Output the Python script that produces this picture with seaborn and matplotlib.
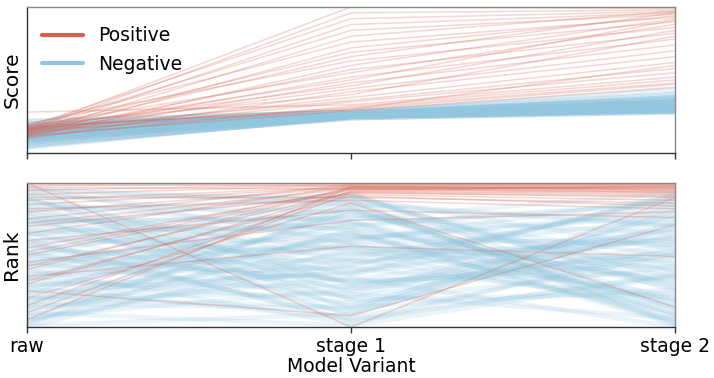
import numpy as np
import pandas as pd
import matplotlib
matplotlib.use("Agg")
import matplotlib.pyplot as plt
import seaborn as sns
from matplotlib.lines import Line2D

stages = ["raw", "stage 1", "stage 2"]

# ---- Positive items: score at each stage ----
pos_score_raw = [0.16, 0.15, 0.18, 0.14, 0.17, 0.13, 0.19, 0.12, 0.16, 0.15,
                 0.20, 0.11, 0.14, 0.18, 0.13, 0.16, 0.12, 0.17, 0.15, 0.10,
                 0.19, 0.14, 0.16, 0.13, 0.28, 0.11, 0.17, 0.15, 0.12, 0.18]
pos_score_s1 = [1.00, 0.96, 0.92, 0.88, 0.84, 0.80, 0.76, 0.72, 0.69, 0.66,
                0.63, 0.60, 0.57, 0.55, 0.52, 0.50, 0.48, 0.46, 0.44, 0.42,
                0.40, 0.38, 0.36, 0.35, 0.33, 0.32, 0.31, 0.30, 0.29, 0.30]
pos_score_s2 = [0.99, 0.98, 0.97, 0.96, 0.95, 0.97, 0.93, 0.94, 0.90, 0.96,
                0.86, 0.92, 0.82, 0.88, 0.78, 0.91, 0.74, 0.84, 0.70, 0.66,
                0.80, 0.62, 0.58, 0.55, 0.52, 0.50, 0.48, 0.47, 0.45, 0.60]

# ---- Positive items: rank percentile (0 = best) ----
pos_rank_raw = [2, 5, 8, 1, 12, 0, 15, 20, 25, 28,
                35, 40, 45, 50, 55, 60, 65, 70, 75, 80,
                85, 90, 95, 30, 10, 48, 58, 68, 3, 18]
pos_rank_s1 = [0.5, 1, 1.5, 2, 2.5, 100, 3, 3.5, 1.2, 4,
               2.2, 19, 4.5, 5, 26, 3, 44, 6, 92, 14,
               5.5, 7, 2.8, 8, 10, 3.8, 6.5, 9, 4.2, 12]
pos_rank_s2 = [0.5, 1, 2, 1.5, 3, 10, 2.5, 4, 0.8, 3.5,
               5, 24, 6, 2, 20, 4.5, 51, 8, 29, 86,
               7, 9, 3.2, 12, 14, 5.5, 10, 16, 6.5, 18]

# ---- Negative items: score at each stage ----
neg_score_raw = [0.12, 0.08, 0.15, 0.10, 0.18, 0.06, 0.13, 0.21, 0.09, 0.14,
                 0.11, 0.17, 0.05, 0.13, 0.19, 0.07, 0.12, 0.16, 0.10, 0.22,
                 0.14, 0.04, 0.11, 0.18, 0.08, 0.15, 0.12, 0.09, 0.20, 0.13,
                 0.06, 0.16, 0.10, 0.14, 0.19, 0.07, 0.12, 0.17, 0.11, 0.03,
                 0.15, 0.09, 0.13, 0.21, 0.08, 0.16, 0.11, 0.14, 0.05, 0.18,
                 0.12, 0.10, 0.17, 0.07, 0.14, 0.20, 0.09, 0.13, 0.16, 0.11,
                 0.08, 0.15, 0.12, 0.18, 0.06, 0.14, 0.10, 0.23, 0.13, 0.09,
                 0.16, 0.11, 0.04, 0.15, 0.12, 0.19, 0.08, 0.13, 0.17, 0.10]
neg_score_s1 = [0.26, 0.25, 0.27, 0.24, 0.28, 0.25, 0.26, 0.27, 0.24, 0.26,
                0.25, 0.27, 0.23, 0.26, 0.28, 0.24, 0.25, 0.26, 0.27, 0.29,
                0.26, 0.24, 0.25, 0.27, 0.25, 0.26, 0.28, 0.24, 0.27, 0.26,
                0.23, 0.26, 0.25, 0.27, 0.28, 0.24, 0.26, 0.25, 0.27, 0.24,
                0.26, 0.25, 0.27, 0.29, 0.24, 0.26, 0.25, 0.27, 0.23, 0.28,
                0.25, 0.26, 0.27, 0.24, 0.26, 0.28, 0.25, 0.26, 0.27, 0.25,
                0.24, 0.27, 0.26, 0.28, 0.25, 0.26, 0.24, 0.29, 0.26, 0.25,
                0.27, 0.25, 0.24, 0.26, 0.25, 0.28, 0.24, 0.26, 0.27, 0.25]
neg_score_s2 = [0.33, 0.30, 0.36, 0.29, 0.38, 0.31, 0.34, 0.37, 0.28, 0.32,
                0.30, 0.35, 0.27, 0.33, 0.40, 0.29, 0.31, 0.34, 0.36, 0.42,
                0.32, 0.28, 0.30, 0.37, 0.31, 0.34, 0.39, 0.29, 0.35, 0.33,
                0.27, 0.33, 0.30, 0.36, 0.38, 0.29, 0.32, 0.31, 0.35, 0.28,
                0.34, 0.30, 0.37, 0.41, 0.29, 0.33, 0.31, 0.36, 0.28, 0.39,
                0.31, 0.32, 0.35, 0.29, 0.33, 0.38, 0.30, 0.34, 0.36, 0.31,
                0.29, 0.36, 0.32, 0.39, 0.30, 0.34, 0.28, 0.44, 0.33, 0.30,
                0.35, 0.31, 0.28, 0.33, 0.30, 0.37, 0.29, 0.32, 0.36, 0.31]

# ---- Negative items: rank percentile (0 = best) ----
neg_rank_raw = [3, 4, 6, 7, 9, 10, 12, 13, 15, 16,
                18, 19, 21, 22, 24, 25, 27, 28, 30, 31,
                33, 34, 36, 37, 39, 40, 42, 43, 45, 46,
                48, 49, 51, 52, 54, 55, 57, 58, 60, 61,
                63, 64, 66, 67, 69, 70, 72, 73, 75, 76,
                78, 79, 81, 82, 84, 85, 87, 88, 90, 91,
                93, 94, 96, 97, 99, 100, 5, 20, 35, 50,
                65, 80, 95, 98, 11, 26, 41, 56, 71, 86]
neg_rank_s1 = [42, 15, 70, 28, 88, 9, 55, 33, 76, 20,
               64, 11, 47, 92, 37, 81, 24, 58, 7, 69,
               31, 85, 13, 50, 96, 40, 18, 73, 61, 26,
               90, 45, 8, 67, 35, 79, 22, 53, 98, 14,
               59, 30, 83, 44, 17, 72, 39, 94, 27, 62,
               10, 77, 49, 36, 87, 21, 66, 52, 99, 41,
               74, 19, 57, 32, 91, 46, 12, 80, 29, 68,
               38, 86, 54, 16, 71, 25, 95, 43, 63, 34]
neg_rank_s2 = [60, 30, 48, 85, 14, 72, 39, 95, 22, 51,
               8, 66, 90, 19, 43, 77, 35, 12, 88, 56,
               70, 27, 99, 41, 63, 10, 82, 47, 33, 93,
               17, 54, 75, 38, 96, 24, 61, 86, 44, 29,
               80, 13, 58, 67, 91, 36, 20, 49, 73, 9,
               46, 94, 25, 83, 31, 57, 100, 16, 65, 40,
               52, 87, 11, 69, 28, 78, 97, 42, 15, 62,
               23, 74, 37, 92, 50, 7, 64, 81, 32, 98]


def long_frame(prefix, s_raw, s1, s2, r_raw, r1, r2):
    rows = []
    for i in range(len(s_raw)):
        for k, st in enumerate(stages):
            rows.append({
                "id": f"{prefix}{i}",
                "stage": k,
                "score": (s_raw, s1, s2)[k][i],
                "rank": (r_raw, r1, r2)[k][i],
            })
    return pd.DataFrame(rows)


pos_df = long_frame("p", pos_score_raw, pos_score_s1, pos_score_s2,
                    pos_rank_raw, pos_rank_s1, pos_rank_s2)
neg_df = long_frame("n", neg_score_raw, neg_score_s1, neg_score_s2,
                    neg_rank_raw, neg_rank_s1, neg_rank_s2)

sns.set_style("white")
plt.rcParams["font.family"] = ["DejaVu Sans"]
plt.rcParams["text.color"] = "black"
plt.rcParams["axes.labelcolor"] = "black"
plt.rcParams["xtick.color"] = "black"

RED = "#d6604d"
BLUE = "#92c5de"

fig = plt.figure(figsize=(7.14, 3.78), dpi=100)
ax1 = fig.add_axes([27 / 714, 1 - 153 / 378, 648 / 714, 146 / 378])
ax2 = fig.add_axes([27 / 714, 1 - 327 / 378, 648 / 714, 144 / 378])

# Score panel
sns.lineplot(data=neg_df, x="stage", y="score", units="id", estimator=None,
             color=BLUE, alpha=0.3, linewidth=1.5, ax=ax1, legend=False)
sns.lineplot(data=pos_df, x="stage", y="score", units="id", estimator=None,
             color=RED, alpha=0.25, linewidth=1.1, ax=ax1, legend=False)

# Rank panel
sns.lineplot(data=neg_df, x="stage", y="rank", units="id", estimator=None,
             color=BLUE, alpha=0.18, linewidth=3.2, ax=ax2, legend=False)
sns.lineplot(data=pos_df, x="stage", y="rank", units="id", estimator=None,
             color=RED, alpha=0.25, linewidth=1.1, ax=ax2, legend=False)

for ax in (ax1, ax2):
    ax.set_xlim(0, 2)
    ax.set_xticks([0, 1, 2])
    ax.set_yticks([])
    ax.tick_params(axis="x", bottom=True, length=4, width=1, color="#333333",
                   labelsize=13.5, pad=3, labelcolor="black")
    for side in ("left", "bottom"):
        ax.spines[side].set_color("#333333")
    for side in ("top", "right"):
        ax.spines[side].set_color("#888888")
    for sp in ax.spines.values():
        sp.set_linewidth(1.0)

ax1.set_ylim(0, 1.0)
ax1.set_xticklabels([])
ax1.set_xlabel("")
ax1.set_ylabel("Score", fontsize=14.5, labelpad=4, color="black")

ax2.set_ylim(100, 0)
ax2.set_xticklabels(stages)
ax2.set_xlabel("Model Variant", fontsize=13.5, labelpad=1, color="black")
ax2.set_ylabel("Rank", fontsize=14.5, labelpad=4, color="black")

handles = [Line2D([0], [0], color=RED, lw=3),
           Line2D([0], [0], color=BLUE, lw=3)]
leg = ax1.legend(handles, ["Positive", "Negative"], loc="upper left",
                 frameon=False, fontsize=13.5, handlelength=2.2,
                 borderaxespad=0.4, bbox_to_anchor=(0.0, 0.97))
for t in leg.get_texts():
    t.set_color("black")

fig.savefig("out.png", dpi=100)
